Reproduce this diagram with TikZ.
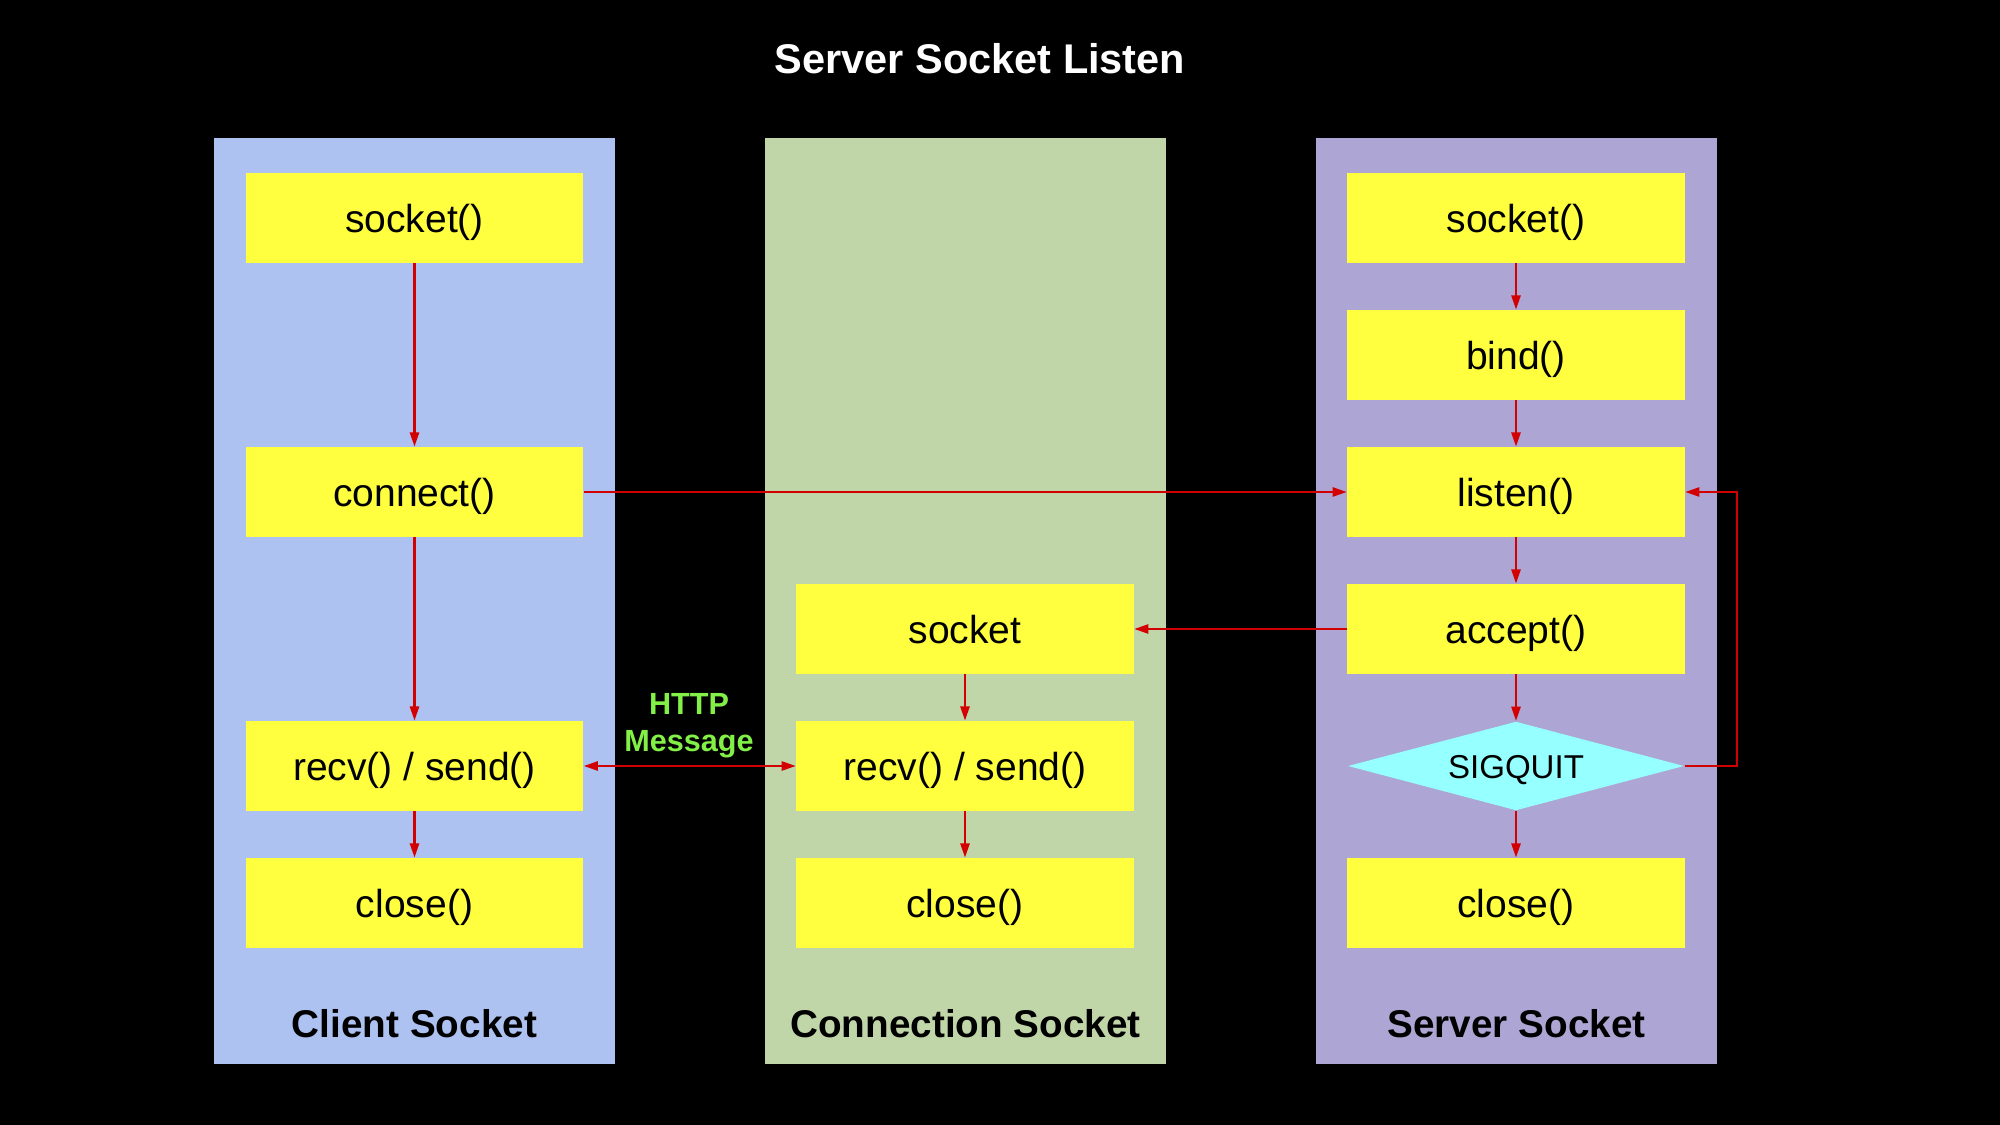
\documentclass[tikz,border=0pt]{standalone}
\usepackage{fontspec}
\setmainfont{Liberation Sans}
\usetikzlibrary{shapes.geometric,arrows.meta}
\definecolor{bgclient}{RGB}{173,194,240}
\definecolor{bgconn}{RGB}{193,214,168}
\definecolor{bgserver}{RGB}{173,165,211}
\definecolor{boxyellow}{RGB}{255,255,64}
\definecolor{diacyan}{RGB}{150,255,255}
\definecolor{linered}{RGB}{210,0,0}
\definecolor{httpgreen}{RGB}{130,240,70}
\tikzset{
  panel/.style={draw=none,inner sep=0pt,minimum width=4.01cm,minimum height=9.26cm},
  fnbox/.style={fill=boxyellow,draw=none,inner sep=0pt,minimum width=3.37cm,minimum height=0.895cm,
    font=\fontsize{11.1}{13}\selectfont,text=black,text height=0.9em,text depth=0.05em},
  sigdia/.style={diamond,shape aspect=3.78,fill=diacyan,draw=none,inner sep=0pt,minimum width=3.36cm,minimum height=0.89cm,
    font=\fontsize{9.4}{11}\selectfont,text=black,text height=0.82em,text depth=0.1em},
  paneltitle/.style={font=\fontsize{11}{13}\selectfont\bfseries,text=black},
  arr/.style={draw=linered,line width=0.6pt,-{Stealth[length=4pt,width=2.6pt,inset=0pt]}},
  darr/.style={draw=linered,line width=0.6pt,{Stealth[length=4pt,width=2.6pt,inset=0pt]}-{Stealth[length=4pt,width=2.6pt,inset=0pt]}},
}
\begin{document}
\begin{tikzpicture}[x=0.01cm,y=-0.01cm]
\fill[black] (0,0) rectangle (2000,1125);
\useasboundingbox (0,0) rectangle (2000,1125);
\node[font=\fontsize{11.8}{14}\selectfont\bfseries,text=white] (title) at (980,59) {Server Socket Listen};
% panels
\node[panel,fill=bgclient] (pclient) at (414.5,601) {};
\node[panel,fill=bgconn] (pconn) at (965.5,601) {};
\node[panel,fill=bgserver] (pserver) at (1516.5,601) {};
\node[paneltitle] (tclient) at (414.5,1024) {Client Socket};
\node[paneltitle] (tconn) at (965.5,1024) {Connection Socket};
\node[paneltitle] (tserver) at (1516.5,1024) {Server Socket};
% client
\node[fnbox] (csocket) at (414.5,218) {socket()};
\node[fnbox] (cconnect) at (414.5,492) {connect()};
\node[fnbox] (crecv) at (414.5,766) {recv() / send()};
\node[fnbox] (cclose) at (414.5,903) {close()};
% connection
\node[fnbox] (ksocket) at (965,629) {socket};
\node[fnbox] (krecv) at (965,766) {recv() / send()};
\node[fnbox] (kclose) at (965,903) {close()};
% server
\node[fnbox] (ssocket) at (1516,218) {socket()};
\node[fnbox] (sbind) at (1516,355) {bind()};
\node[fnbox] (slisten) at (1516,492) {listen()};
\node[fnbox] (saccept) at (1516,629) {accept()};
\node[sigdia] (ssig) at (1516,766) {SIGQUIT};
\node[fnbox] (sclose) at (1516,903) {close()};
% http label
\node[align=center,font=\fontsize{8.7}{10.5}\selectfont\bfseries,text=httpgreen] (http) at (689,726) {HTTP\\Message};
% connectors
\draw[arr] (csocket) -- (cconnect);
\draw[arr] (cconnect) -- (crecv);
\draw[arr] (crecv) -- (cclose);
\draw[arr] (cconnect) -- (slisten);
\draw[arr] (ssocket) -- (sbind);
\draw[arr] (sbind) -- (slisten);
\draw[arr] (slisten) -- (saccept);
\draw[arr] (saccept) -- (ssig);
\draw[arr] (ssig) -- (sclose);
\draw[arr] (saccept) -- (ksocket);
\draw[arr] (ksocket) -- (krecv);
\draw[arr] (krecv) -- (kclose);
\draw[darr] (crecv) -- (krecv);
\draw[arr] (ssig.east) -- ++(52,0) |- (slisten.east);
\end{tikzpicture}
\end{document}
